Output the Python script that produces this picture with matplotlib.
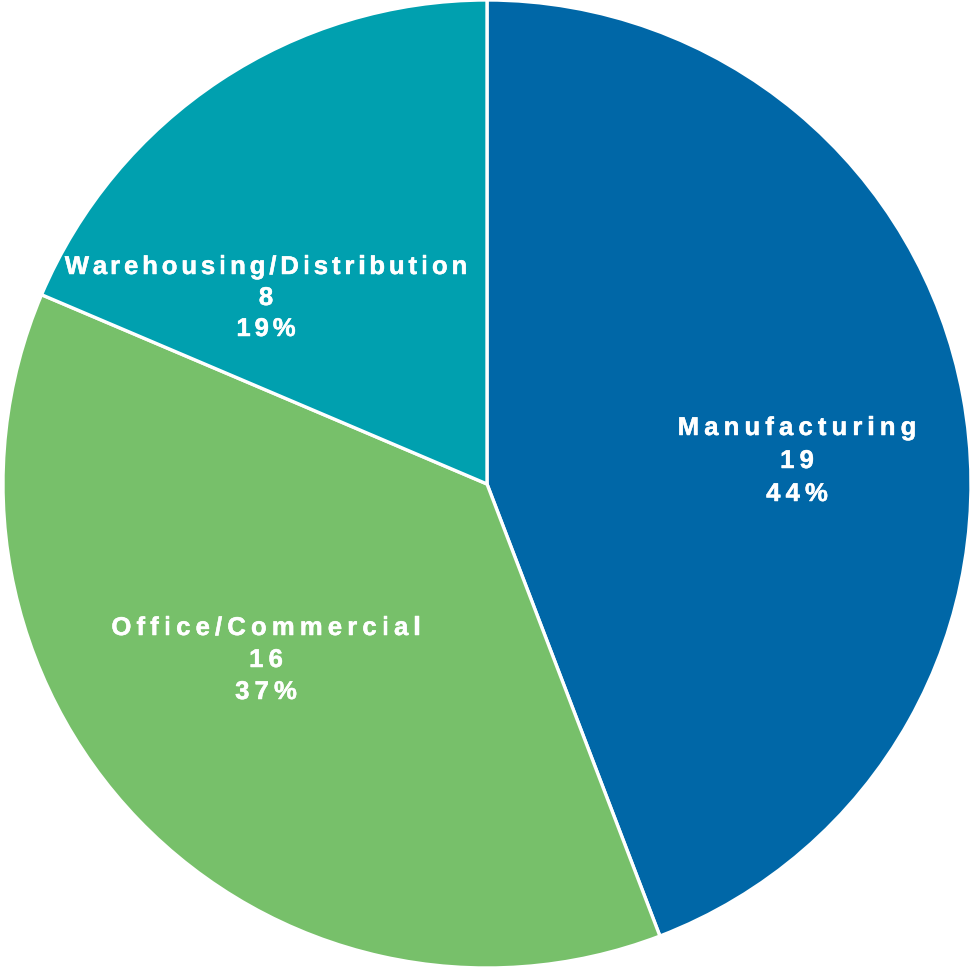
import matplotlib
matplotlib.use("Agg")
import matplotlib.pyplot as plt
import matplotlib.patheffects as pe
from matplotlib.font_manager import FontProperties
from matplotlib.textpath import TextToPath
from matplotlib import transforms

categories = ["Manufacturing", "Office/Commercial", "Warehousing/Distribution"]
counts = [19, 16, 8]
colors = ["#0067A7", "#77C06A", "#00A0AF"]

W, H = 974, 968
fig = plt.figure(figsize=(W / 100, H / 100), dpi=100)
ax = fig.add_axes([0, 0, 1, 1])
ax.set_xlim(0, W)
ax.set_ylim(0, H)
ax.set_aspect("equal")
ax.axis("off")

cx, cy, r = 487, H - 484, 484
ax.pie(counts, colors=colors, startangle=90, counterclock=False,
       center=(cx, cy), radius=r,
       wedgeprops=dict(edgecolor="white", linewidth=2.4))
ax.set_xlim(0, W)
ax.set_ylim(0, H)

prop = FontProperties(family="Liberation Sans", weight="bold", size=18.5)
ttp = TextToPath()


def width_pt(s):
    if not s:
        return 0.0
    w, _, _ = ttp.get_text_width_height_descent(s, prop, ismath=False)
    return w


def spaced_text(x, y, s, spacing):
    # matplotlib has no letter spacing, so place glyphs one by one
    total = width_pt(s) + spacing * (len(s) - 1)
    start = -total / 2
    for i, ch in enumerate(s):
        dx = start + width_pt(s[:i]) + spacing * i
        tr = transforms.offset_copy(ax.transData, fig=fig, x=dx, y=0, units="points")
        ax.text(x, y, ch, transform=tr, fontproperties=prop, color="white",
                ha="left", va="center",
                path_effects=[pe.withStroke(linewidth=0.35, foreground="white")])


# label anchors (image pixels: x, y of middle line) and letter spacing in pt
anchors = [(797, 461), (266, 660), (266, 298)]
spacings = [3.7, 3.7, 2.8]
line_gaps = [33, 32, 31]
total = sum(counts)
for name, n, (x, y), sp, gap in zip(categories, counts, anchors, spacings, line_gaps):
    lines = [name, str(n), f"{round(100 * n / total)}%"]
    for k, line in enumerate(lines):
        spaced_text(x, H - (y + (k - 1) * gap), line, sp)

fig.savefig("out.png", dpi=100)
